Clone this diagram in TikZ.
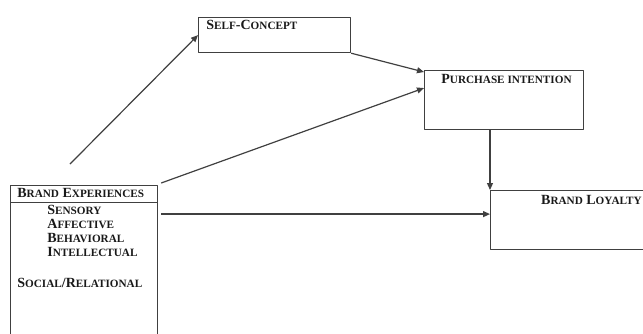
\documentclass[tikz,border=0pt]{standalone}
\usepackage{fontspec}
\setmainfont{Liberation Serif}
\usetikzlibrary{arrows.meta,calc,positioning}

% fake small caps: first letter full size, the rest smaller
\newcommand{\capsc}[1]{{\fontsize{5.6}{6}\selectfont #1}}

\begin{document}
\begin{tikzpicture}[x=0.5pt, y=-0.5pt, line join=round,
    font=\fontsize{7}{8}\selectfont\bfseries,
    box/.style={draw=black!75, line width=0.6pt, anchor=north west, inner sep=0pt},
    lbl/.style={inner sep=0pt, text=black!90},
    arr/.style={draw=black!75, line width=0.6pt, -{Triangle[length=3.5pt, width=3pt]}}]
    \useasboundingbox (0,0) rectangle (643,333);
    \clip (0,0) rectangle (643,333);

    % boxes
    \node[box, minimum width=76pt, minimum height=17.5pt] (sc) at (198,17) {};
    \node[box, minimum width=79.5pt, minimum height=29.5pt] (pi) at (424,70) {};
    \node[box, minimum width=85pt, minimum height=29.5pt] (bl) at (490,190) {};
    \node[box, minimum width=73.5pt, minimum height=8.5pt] (behead) at (10,185) {};
    \node[box, minimum width=73.5pt, minimum height=75pt] (bebody) at (10,202) {};

    % labels
    \node[lbl, anchor=base west] (sclabel) at (206,29) {S\capsc{ELF}-C\capsc{ONCEPT}};
    \node[lbl, anchor=base west] (pilabel) at (441,83) {P\capsc{URCHASE INTENTION}};
    \node[lbl, anchor=base east] (bllabel) at (642,204) {B\capsc{RAND} L\capsc{OYALTY}};
    \node[lbl, anchor=base west] (belabel) at (17,197) {B\capsc{RAND} E\capsc{XPERIENCES}};
    \foreach \first/\rest [count=\i] in {S/ENSORY, A/FFECTIVE, B/EHAVIORAL, I/NTELLECTUAL}
        \node[lbl, anchor=base west] (dim\i) at (47,200+14*\i) {\first\capsc{\rest}};
    \node[lbl, anchor=base west] (social) at (17,287) {S\capsc{OCIAL}/R\capsc{ELATIONAL}};

    % connectors
    \coordinate (free) at (70,164);
    \coordinate (piin) at ($(pi.north west)!0.3!(pi.south west)$);
    \coordinate (blin) at ($(bl.north west)!0.4!(bl.south west)$);
    \draw[arr] (free) -- (sc.west);
    \draw[arr] (sc.south east) -- ([yshift=-1pt]pi.north west);
    \draw[arr] ([shift={(1.5pt,1pt)}]behead.north east) -- (piin);
    \draw[arr] (bl.north west |- pi.south) -- (bl.north west);
    \draw[arr] ([xshift=1.5pt]behead.east |- blin) -- (blin);
\end{tikzpicture}
\end{document}
